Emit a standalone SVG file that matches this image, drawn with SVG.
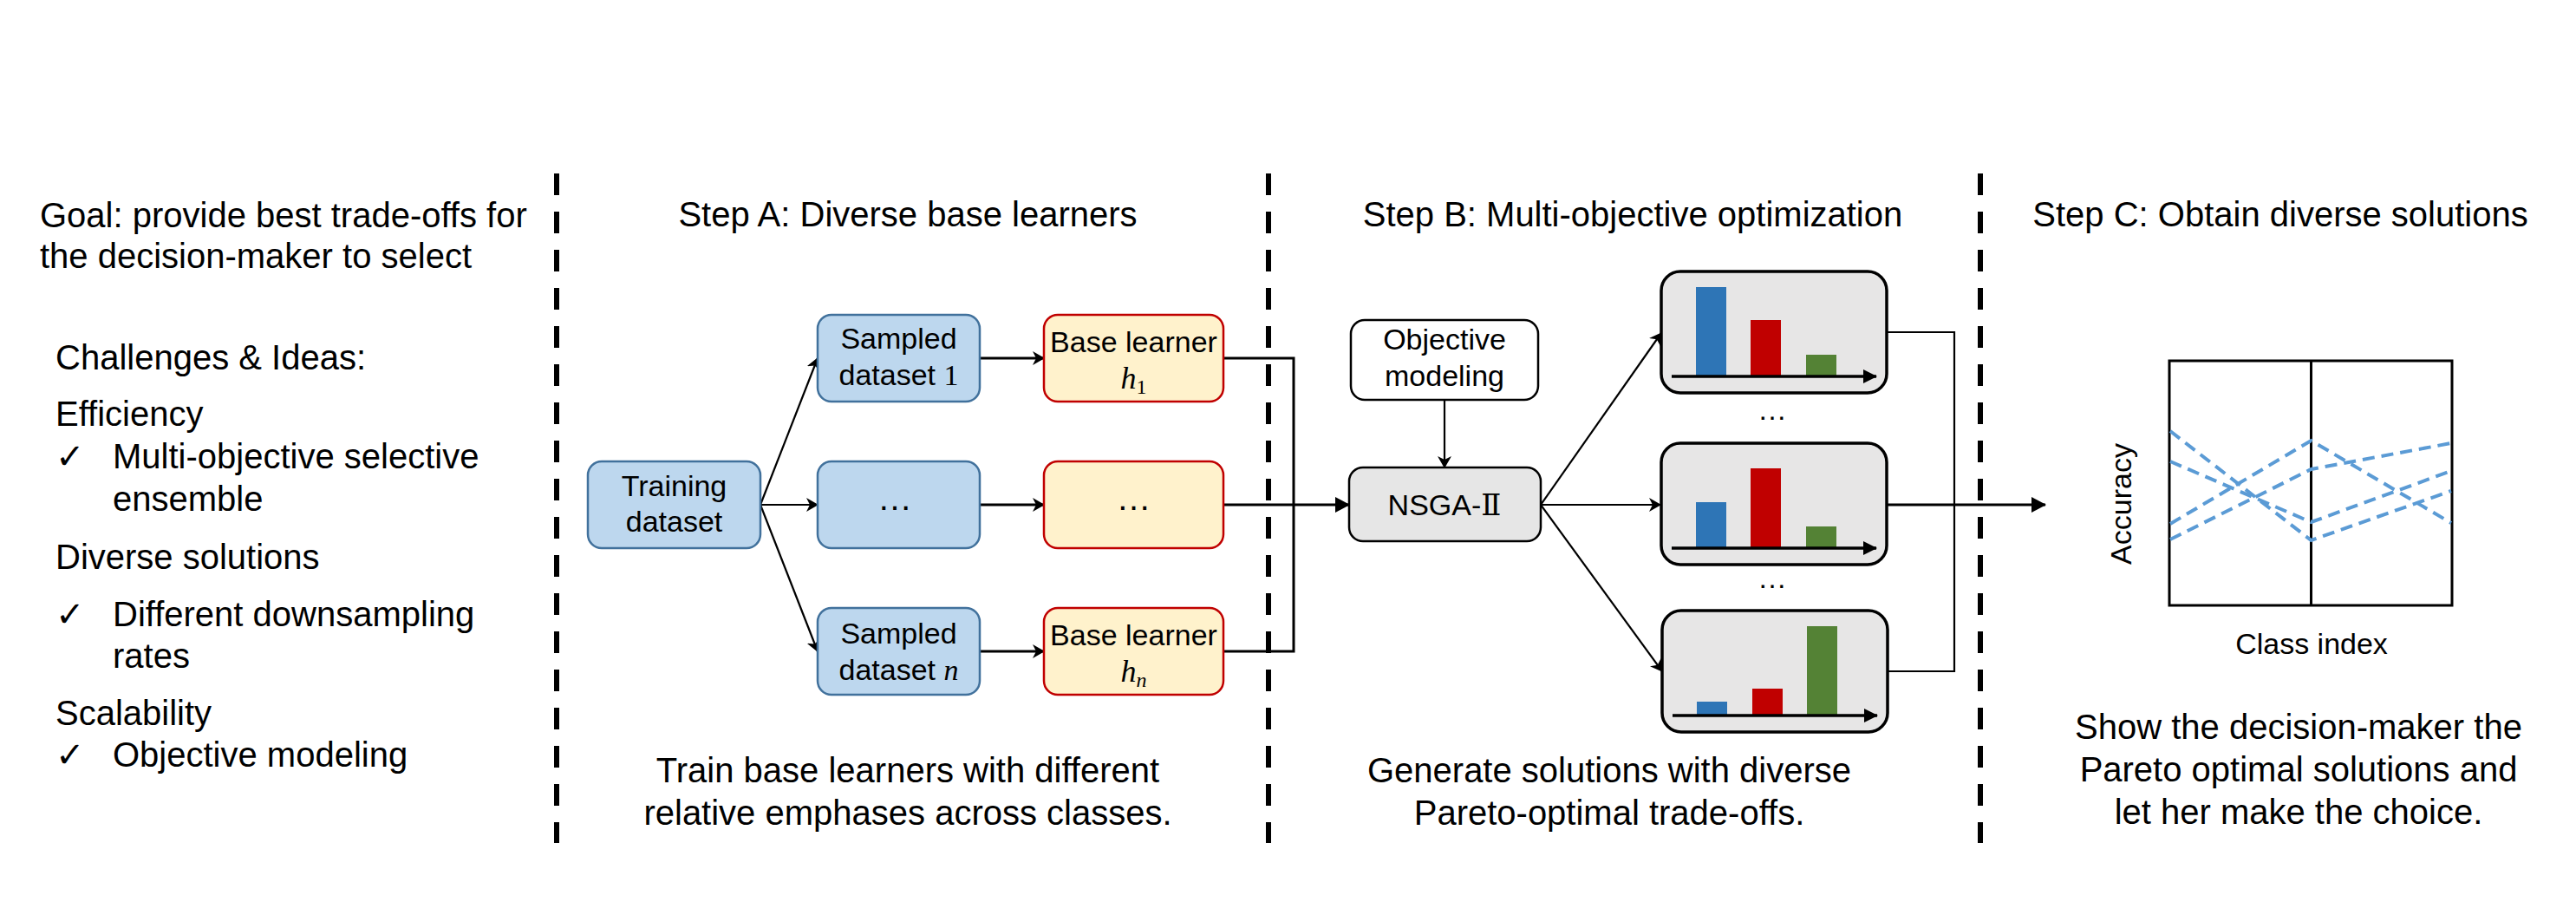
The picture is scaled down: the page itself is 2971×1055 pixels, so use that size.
<svg xmlns="http://www.w3.org/2000/svg" width="2971" height="1055" viewBox="0 0 2971 1055">
<style>
  text { font-family: "Liberation Sans", Arial, sans-serif; fill: #000; }
  .t40 { font-size: 40px; }
  .t34 { font-size: 34px; }
  .mid { text-anchor: middle; }
  .math { font-family: "Liberation Serif", "Times New Roman", serif; font-style: italic; }
  .mathr { font-family: "Liberation Serif", "Times New Roman", serif; }
  .blue { fill: #BDD7EE; stroke: #41719C; stroke-width: 2.5; }
  .yellow { fill: #FFF2CC; stroke: #C00000; stroke-width: 2.5; }
  .gray { fill: #E6E6E6; stroke: #000; stroke-width: 2.5; }
  .white { fill: #FFFFFF; stroke: #000; stroke-width: 2.5; }
  .sol { fill: #E7E6E6; stroke: #000; stroke-width: 3.5; }
  .sep { stroke: #000; stroke-width: 6; stroke-dasharray: 25 19; fill: none; }
  .conn { stroke: #000; stroke-width: 2.2; fill: none; }
  .thick { stroke: #000; stroke-width: 3; fill: none; }
  .axis { stroke: #000; stroke-width: 3.5; fill: none; }
  .pareto { stroke: #5B9BD5; stroke-width: 4; stroke-dasharray: 14 8; fill: none; }
  .bb { fill: #2E75B6; }
  .br { fill: #C00000; }
  .bg { fill: #548235; }
  .check { font-family: "DejaVu Sans", sans-serif; font-size: 40px; }
  .dots { font-size: 40px; }
  .roman { font-family: "DejaVu Serif", "Liberation Serif", serif; }
</style>
<defs>
  <marker id="open" viewBox="0 0 14 16" refX="13" refY="8" markerWidth="14" markerHeight="16" markerUnits="userSpaceOnUse" orient="auto">
    <path d="M0,0 L14,8 L0,16 L4,8 Z" fill="#000"/>
  </marker>
  <marker id="big" viewBox="0 0 17 18" refX="16" refY="9" markerWidth="17" markerHeight="18" markerUnits="userSpaceOnUse" orient="auto">
    <path d="M0,0 L17,9 L0,18 Z" fill="#000"/>
  </marker>
  <marker id="axisarrow" viewBox="0 0 16 16" refX="15" refY="8" markerWidth="16" markerHeight="16" markerUnits="userSpaceOnUse" orient="auto">
    <path d="M0,0 L16,8 L0,16 Z" fill="#000"/>
  </marker>
</defs>

<!-- separators -->
<g id="separators">
  <line class="sep" x1="642" y1="200" x2="642" y2="972"/>
  <line class="sep" x1="1463" y1="200" x2="1463" y2="972"/>
  <line class="sep" x1="2284" y1="200" x2="2284" y2="972"/>
</g>

<!-- left column -->
<g id="goal">
  <text class="t40" x="46" y="262">Goal: provide best trade-offs for</text>
  <text class="t40" x="46" y="309">the decision-maker to select</text>
</g>
<g id="challenges">
  <text class="t40" x="64" y="426">Challenges &amp; Ideas:</text>
  <text class="t40" x="64" y="491">Efficiency</text>
  <text class="check" x="64" y="540">✓</text>
  <text class="t40" x="130" y="540">Multi-objective selective</text>
  <text class="t40" x="130" y="589">ensemble</text>
  <text class="t40" x="64" y="656">Diverse solutions</text>
  <text class="check" x="64" y="722">✓</text>
  <text class="t40" x="130" y="722">Different downsampling</text>
  <text class="t40" x="130" y="770">rates</text>
  <text class="t40" x="64" y="836">Scalability</text>
  <text class="check" x="64" y="884">✓</text>
  <text class="t40" x="130" y="884">Objective modeling</text>
</g>

<!-- headers -->
<g id="headers">
  <text class="t40 mid" x="1047" y="261">Step A: Diverse base learners</text>
  <text class="t40 mid" x="1883" y="261">Step B: Multi-objective optimization</text>
  <text class="t40 mid" x="2630" y="261">Step C: Obtain diverse solutions</text>
</g>

<!-- captions -->
<g id="captions">
  <text class="t40 mid" x="1047" y="902">Train base learners with different</text>
  <text class="t40 mid" x="1047" y="951">relative emphases across classes.</text>
  <text class="t40 mid" x="1856" y="902">Generate solutions with diverse</text>
  <text class="t40 mid" x="1856" y="951">Pareto-optimal trade-offs.</text>
  <text class="t40 mid" x="2651" y="852">Show the decision-maker the</text>
  <text class="t40 mid" x="2651" y="901">Pareto optimal solutions and</text>
  <text class="t40 mid" x="2651" y="950">let her make the choice.</text>
</g>

<!-- connectors -->
<g id="connectors">
  <line class="conn" x1="877" y1="582" x2="943" y2="413" marker-end="url(#open)"/>
  <line class="conn" x1="877" y1="582" x2="943" y2="582" marker-end="url(#open)"/>
  <line class="conn" x1="877" y1="582" x2="943" y2="751" marker-end="url(#open)"/>
  <line class="thick" x1="1130" y1="413" x2="1204" y2="413" marker-end="url(#open)"/>
  <line class="thick" x1="1130" y1="582" x2="1204" y2="582" marker-end="url(#open)"/>
  <line class="thick" x1="1130" y1="751" x2="1204" y2="751" marker-end="url(#open)"/>
  <polyline class="thick" points="1411,413 1492,413 1492,751 1411,751"/>
  <line class="thick" x1="1411" y1="582" x2="1556" y2="582" marker-end="url(#big)"/>
  <line class="conn" x1="1666" y1="461" x2="1666" y2="539" marker-end="url(#open)"/>
  <line class="conn" x1="1777" y1="582" x2="1916" y2="384" marker-end="url(#open)"/>
  <line class="conn" x1="1777" y1="582" x2="1915" y2="582" marker-end="url(#open)"/>
  <line class="conn" x1="1777" y1="582" x2="1917" y2="774" marker-end="url(#open)"/>
  <polyline class="conn" points="2176,383 2254,383 2254,774 2177,774"/>
  <line class="thick" x1="2175" y1="582" x2="2359" y2="582" marker-end="url(#big)"/>
</g>

<!-- Step A nodes -->
<g id="training">
  <rect class="blue" x="678" y="532" width="199" height="100" rx="16"/>
  <text class="t34 mid" x="777.5" y="572">Training</text>
  <text class="t34 mid" x="777.5" y="613">dataset</text>
</g>
<g id="sampled1">
  <rect class="blue" x="943" y="363" width="187" height="100" rx="16"/>
  <text class="t34 mid" x="1036.5" y="402">Sampled</text>
  <text class="t34 mid" x="1036.5" y="444">dataset <tspan class="mathr">1</tspan></text>
</g>
<g id="sampledmid">
  <rect class="blue" x="943" y="532" width="187" height="100" rx="16"/>
  <text class="dots mid" x="1032" y="588">…</text>
</g>
<g id="sampledn">
  <rect class="blue" x="943" y="701" width="187" height="100" rx="16"/>
  <text class="t34 mid" x="1036.5" y="742">Sampled</text>
  <text class="t34 mid" x="1036.5" y="784">dataset <tspan class="math">n</tspan></text>
</g>
<g id="learner1">
  <rect class="yellow" x="1204" y="363" width="207" height="100" rx="16"/>
  <text class="t34 mid" x="1307.5" y="406">Base learner</text>
  <text class="t34 mid" x="1307.5" y="448"><tspan class="math" font-size="36">h</tspan><tspan class="mathr" font-size="24" dy="6">1</tspan></text>
</g>
<g id="learnermid">
  <rect class="yellow" x="1204" y="532" width="207" height="100" rx="16"/>
  <text class="dots mid" x="1307.5" y="588">…</text>
</g>
<g id="learnern">
  <rect class="yellow" x="1204" y="701" width="207" height="100" rx="16"/>
  <text class="t34 mid" x="1307.5" y="744">Base learner</text>
  <text class="t34 mid" x="1307.5" y="786"><tspan class="math" font-size="36">h</tspan><tspan class="math" font-size="24" dy="6">n</tspan></text>
</g>

<!-- Step B nodes -->
<g id="objective">
  <rect class="white" x="1558" y="369" width="216" height="92" rx="16"/>
  <text class="t34 mid" x="1666" y="403">Objective</text>
  <text class="t34 mid" x="1666" y="445">modeling</text>
</g>
<g id="nsga">
  <rect class="gray" x="1556" y="539" width="221" height="85" rx="16"/>
  <text class="t34 mid" x="1666" y="594">NSGA-<tspan class="roman">Ⅱ</tspan></text>
</g>
<g id="solution1">
  <rect class="sol" x="1916" y="313" width="260" height="140" rx="22"/>
  <rect class="bb" x="1956" y="331" width="35" height="103"/>
  <rect class="br" x="2019" y="369" width="35" height="65"/>
  <rect class="bg" x="2083" y="409" width="35" height="25"/>
  <line class="axis" x1="1928" y1="434" x2="2164" y2="434" marker-end="url(#axisarrow)"/>
</g>
<text id="dots1" class="t34 mid" x="2044" y="484">…</text>
<g id="solution2">
  <rect class="sol" x="1916" y="511" width="260" height="140" rx="22"/>
  <rect class="bb" x="1956" y="579" width="35" height="53"/>
  <rect class="br" x="2019" y="540" width="35" height="92"/>
  <rect class="bg" x="2083" y="607" width="35" height="25"/>
  <line class="axis" x1="1928" y1="632" x2="2164" y2="632" marker-end="url(#axisarrow)"/>
</g>
<text id="dots2" class="t34 mid" x="2044" y="678">…</text>
<g id="solution3">
  <rect class="sol" x="1917" y="704" width="260" height="140" rx="22"/>
  <rect class="bb" x="1957" y="809" width="35" height="16"/>
  <rect class="br" x="2021" y="794" width="35" height="31"/>
  <rect class="bg" x="2084" y="722" width="35" height="103"/>
  <line class="axis" x1="1929" y1="825" x2="2165" y2="825" marker-end="url(#axisarrow)"/>
</g>

<!-- Step C chart -->
<g id="chart">
  <rect x="2502" y="416" width="326" height="282" fill="none" stroke="#000" stroke-width="3"/>
  <line x1="2665.5" y1="416" x2="2665.5" y2="698" stroke="#000" stroke-width="3"/>
  <polyline class="pareto" points="2503,497 2665.5,623 2827,566"/>
  <polyline class="pareto" points="2503,532 2665.5,602 2827,543"/>
  <polyline class="pareto" points="2503,604 2665.5,508 2827,603"/>
  <polyline class="pareto" points="2503,622 2665.5,541 2827,511"/>
  <text class="t34 mid" transform="translate(2458,581) rotate(-90)">Accuracy</text>
  <text class="t34 mid" x="2666" y="754">Class index</text>
</g>
</svg>
